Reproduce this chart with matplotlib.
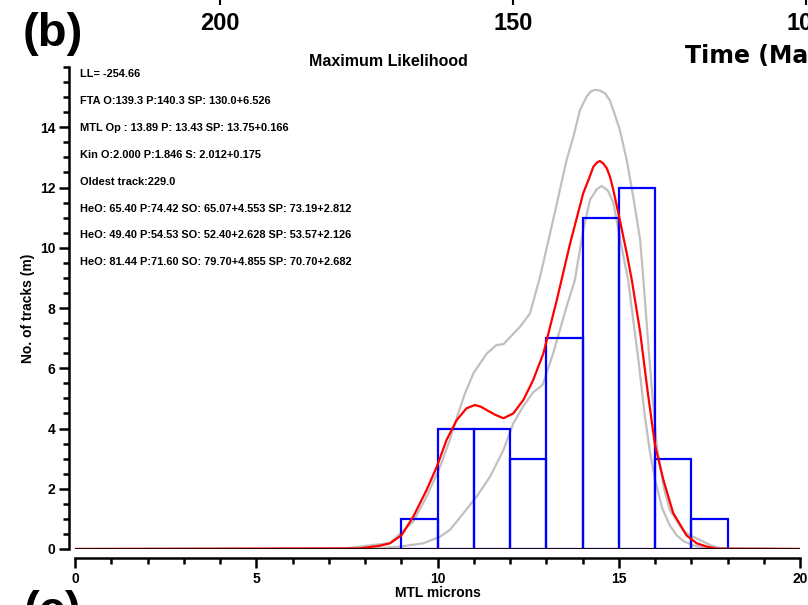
import numpy as np
import matplotlib
matplotlib.use('Agg')
import matplotlib.pyplot as plt

plt.rcParams['font.family'] = ['Liberation Sans', 'DejaVu Sans']
plt.rcParams['font.weight'] = 'bold'

# Histograma de longitudes de trazas (MTL), bins de 1 micra
bin_edges = [9, 10, 11, 12, 13, 14, 15, 16, 17]
bin_counts = [1, 4, 4, 3, 7, 11, 12, 3, 1]

# Curva predicha (roja)
red_x = [0, 7.86, 8.41, 8.69, 9.01, 9.33, 9.70, 9.98, 10.25, 10.53, 10.8, 11.03,
         11.2, 11.36, 11.6, 11.82, 12.09, 12.37, 12.64, 12.92, 13.29, 13.66,
         14.02, 14.18, 14.3, 14.4, 14.48, 14.57, 14.67, 14.76, 14.85, 15.03,
         15.22, 15.36, 15.59, 15.8, 16.0, 16.23, 16.5, 16.87, 17.15, 17.43,
         17.7, 20]
red_y = [0, 0.02, 0.11, 0.19, 0.46, 1.07, 1.96, 2.73, 3.62, 4.28, 4.67, 4.78,
         4.72, 4.61, 4.45, 4.34, 4.50, 4.95, 5.61, 6.49, 8.26, 10.15,
         11.81, 12.3, 12.69, 12.83, 12.88, 12.8, 12.64, 12.35, 11.92, 10.92,
         9.82, 8.93, 7.2, 5.2, 3.45, 2.3, 1.2, 0.45, 0.19, 0.08,
         0.01, 0]

# Envolvente superior (gris)
up_x = [0, 7.31, 8.69, 9.33, 9.70, 10.07, 10.34, 10.57, 10.76, 10.99, 11.36,
        11.63, 11.82, 12.28, 12.55, 12.83, 13.19, 13.56, 13.75, 13.93, 14.11,
        14.22, 14.34, 14.48, 14.62, 14.75, 14.85, 15.03, 15.22, 15.4, 15.59,
        15.68, 15.77, 15.9, 16.05, 16.25, 16.41, 16.78, 16.97, 17.24, 17.52,
        17.8, 20]
up_y = [0, 0.0, 0.2, 0.91, 1.74, 2.73, 3.62, 4.50, 5.17, 5.83, 6.49,
        6.77, 6.8, 7.38, 7.82, 9.04, 10.92, 12.91, 13.69, 14.57, 15.01,
        15.18, 15.24, 15.22, 15.13, 14.9, 14.57, 13.91, 12.91, 11.69, 10.26,
        8.93, 7.5, 5.5, 3.4, 2.0, 1.29, 0.6, 0.45, 0.3, 0.13,
        0.03, 0]

# Envolvente inferior (gris)
low_x = [0, 8.23, 8.97, 9.61, 10.07, 10.34, 10.71, 11.08, 11.45, 11.82, 12.09,
         12.37, 12.64, 12.9, 13.19, 13.56, 13.79, 14.02, 14.21, 14.4, 14.53,
         14.7, 14.85, 14.94, 15.13, 15.26, 15.4, 15.55, 15.7, 15.85, 16.0,
         16.2, 16.4, 16.6, 16.8, 17.06, 17.5, 20]
low_y = [0, 0.02, 0.08, 0.19, 0.41, 0.63, 1.18, 1.74, 2.40, 3.29, 4.17,
         4.75, 5.2, 5.45, 6.49, 8.04, 8.93, 10.59, 11.6, 11.95, 12.05,
         11.9, 11.5, 10.92, 9.7, 8.93, 7.6, 6.2, 4.6, 3.3, 2.3,
         1.35, 0.8, 0.45, 0.25, 0.12, 0.02, 0]

info_lines = [
    "LL= -254.66",
    "FTA O:139.3 P:140.3 SP: 130.0+6.526",
    "MTL Op : 13.89 P: 13.43 SP: 13.75+0.166",
    "Kin O:2.000 P:1.846 S: 2.012+0.175",
    "Oldest track:229.0",
    "HeO: 65.40 P:74.42 SO: 65.07+4.553 SP: 73.19+2.812",
    "HeO: 49.40 P:54.53 SO: 52.40+2.628 SP: 53.57+2.126",
    "HeO: 81.44 P:71.60 SO: 79.70+4.855 SP: 70.70+2.682",
]

time_ticks = [200, 150, 100]
x_ticks = [0, 5, 10, 15, 20]
y_ticks = [0, 2, 4, 6, 8, 10, 12, 14]

W, H = 808, 605
fig = plt.figure(figsize=(W / 100, H / 100), dpi=100, facecolor='white')

ax = fig.add_axes([75 / W, 1 - 549 / H, 725 / W, 482 / H])
ax.set_xlim(0, 20)
ax.set_ylim(0, 16)

ax.plot(up_x, up_y, color='#c0c0c0', lw=1.6, zorder=2)
ax.plot(low_x, low_y, color='#c0c0c0', lw=1.6, zorder=2)
ax.bar(bin_edges, bin_counts, width=1, align='edge', fill=False,
       edgecolor='#0000ff', linewidth=1.6, zorder=3)
ax.plot(red_x, red_y, color='#ff0000', lw=1.6, zorder=4)
ax.axhline(0, color='#1a0000', lw=2.0, zorder=5)

for s in ['top', 'right']:
    ax.spines[s].set_visible(False)
ax.spines['left'].set_position(('outward', 4.3))
ax.spines['bottom'].set_position(('outward', 6.5))
ax.spines['left'].set_linewidth(1.8)
ax.spines['bottom'].set_linewidth(1.8)

ax.set_xticks(x_ticks)
ax.set_xticks(np.arange(0, 21, 1), minor=True)
ax.set_yticks(y_ticks)
ax.set_yticks(np.arange(0, 16.5, 0.5), minor=True)
ax.tick_params(which='major', length=7, width=1.8, labelsize=10, pad=3)
ax.tick_params(which='minor', length=4.3, width=1.8)
ax.tick_params(axis='x', which='major', pad=3)
for lab in ax.get_xticklabels() + ax.get_yticklabels():
    lab.set_fontweight('bold')

ax.set_xlabel('MTL microns', fontsize=10, fontweight='bold', labelpad=0)
ax.set_ylabel('No. of tracks (m)', fontsize=10, fontweight='bold', labelpad=3)

fig.text(388 / W, 1 - 62 / H, 'Maximum Likelihood', fontsize=11.5,
         fontweight='bold', ha='center', va='center')

for i, line in enumerate(info_lines):
    fig.text(80 / W, 1 - (74 + i * 26.9) / H, line, fontsize=7.9,
             fontweight='bold', ha='left', va='center')

# Eje de tiempo del panel superior (recortado)
ax_top = fig.add_axes([0, 1 + 3 / H, 1, 0.05])
ax_top.set_xlim(237.54, 99.66)
ax_top.set_ylim(0, 1)
for s in ax_top.spines.values():
    s.set_visible(False)
ax_top.yaxis.set_visible(False)
ax_top.set_xticks(time_ticks)
ax_top.set_xticklabels([str(t) for t in time_ticks])
ax_top.tick_params(axis='x', length=5.5, width=1.5, labelsize=17, pad=5)
for lab in ax_top.get_xticklabels():
    lab.set_fontweight('bold')
ax_top.patch.set_visible(False)

fig.text(685 / W, 1 - 56 / H, 'Time (Ma)', fontsize=17, fontweight='bold',
         family=['DejaVu Sans'], ha='left', va='center')

fig.text(53 / W, 1 - 34 / H, '(b)', fontsize=34, fontweight='bold',
         ha='center', va='center')
fig.text(53 / W, 1 - 612 / H, '(c)', fontsize=34, fontweight='bold',
         ha='center', va='center')

fig.savefig('out.png', dpi=100, facecolor='white')
